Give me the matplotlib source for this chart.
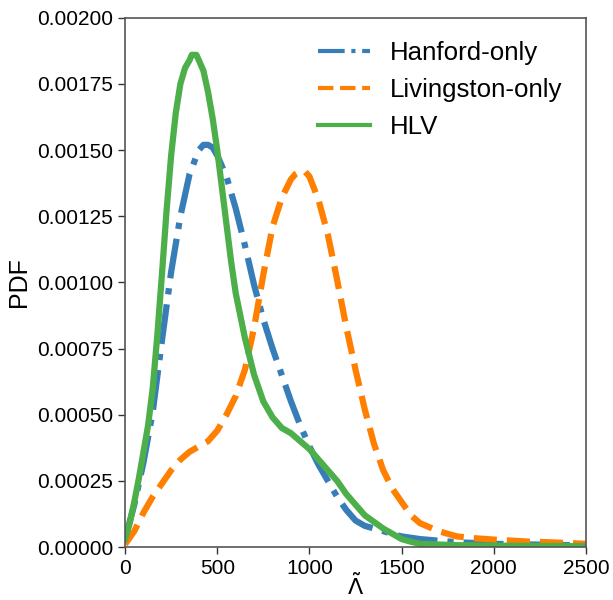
import matplotlib
matplotlib.use("Agg")
import matplotlib.pyplot as plt

# ---- data ----
hlv_x = [0, 25, 50, 75, 100, 125, 150, 175, 200, 225, 250, 275, 300, 325, 350, 362,
         375, 387, 400, 425, 450, 475, 500, 525, 550, 575, 600, 650, 700, 750, 800,
         850, 900, 950, 1000, 1050, 1100, 1150, 1200, 1250, 1300, 1350, 1400, 1450,
         1500, 1550, 1600, 1800, 2000, 2500]
hlv_y = [0.00003, 0.00009, 0.00017, 0.00026, 0.00036, 0.00046, 0.00060, 0.00080,
         0.00103, 0.00127, 0.00148, 0.00164, 0.00175, 0.00181, 0.00184, 0.00186,
         0.00186, 0.00186, 0.00184, 0.00180, 0.00172, 0.00162, 0.00150, 0.00136,
         0.00122, 0.00108, 0.00096, 0.00079, 0.00065, 0.00055, 0.00049, 0.00045,
         0.00043, 0.00040, 0.00037, 0.00033, 0.00029, 0.00025, 0.00020, 0.00016,
         0.00012, 0.000095, 0.00007, 0.00005, 0.00003, 0.00002, 0.000012, 0.000007,
         0.000005, 0.000003]

han_x = [0, 50, 100, 150, 200, 250, 300, 350, 400, 425, 450, 475, 500, 550, 600, 650,
         700, 750, 800, 850, 900, 950, 1000, 1050, 1100, 1150, 1200, 1250, 1300,
         1400, 1500, 1600, 1800, 2000, 2500]
han_y = [0.00003, 0.00016, 0.00032, 0.00051, 0.00078, 0.00104, 0.00125, 0.00141,
         0.00150, 0.00152, 0.00152, 0.00151, 0.00148, 0.00140, 0.00128, 0.00114,
         0.00099, 0.00086, 0.00075, 0.00065, 0.00055, 0.00046, 0.00038, 0.00031,
         0.00025, 0.00019, 0.00014, 0.00010, 0.00008, 0.00006, 0.00004, 0.00003,
         0.000018, 0.000012, 0.000006]

liv_x = [0, 50, 100, 150, 200, 250, 300, 350, 400, 450, 500, 550, 600, 650, 700,
         750, 800, 850, 900, 925, 950, 975, 1000, 1050, 1100, 1150, 1200, 1250, 1300,
         1350, 1400, 1450, 1500, 1550, 1600, 1650, 1700, 1800, 1900, 2000, 2100,
         2200, 2300, 2500]
liv_y = [0.00001, 0.00006, 0.00013, 0.00019, 0.00024, 0.00029, 0.00033, 0.00036,
         0.00038, 0.00040, 0.00044, 0.00050, 0.00057, 0.00067, 0.00083, 0.00103,
         0.00121, 0.00132, 0.00139, 0.00141, 0.00142, 0.00142, 0.00140, 0.00131,
         0.00118, 0.00101, 0.00083, 0.00067, 0.00052, 0.00039, 0.00029, 0.00022,
         0.00017, 0.00012, 0.00009, 0.000075, 0.00006, 0.00004, 0.000033, 0.000028,
         0.000024, 0.00002, 0.000018, 0.000012]

labels = ["Hanford-only", "Livingston-only", "HLV"]
colors = ["#377eb8", "#ff7f00", "#4daf4a"]

xticks = [0, 500, 1000, 1500, 2000, 2500]
yticks = [0.0, 0.00025, 0.0005, 0.00075, 0.001, 0.00125, 0.0015, 0.00175, 0.002]

plt.rcParams['font.family'] = ['Liberation Sans', 'DejaVu Sans']

fig = plt.figure(figsize=(6.13, 6.0), dpi=100)
ax = fig.add_axes([0.204, 0.0883, 0.752, 0.882])

kw = dict(lw=4.5, solid_joinstyle='round', dash_joinstyle='round')
ax.plot(han_x, han_y, color=colors[0], ls='-.', label=labels[0], **kw)
ax.plot(liv_x, liv_y, color=colors[1], ls='--', label=labels[1], **kw)
ax.plot(hlv_x, hlv_y, color=colors[2], ls='-', label=labels[2], **kw)

ax.set_xlim(0, 2500)
ax.set_ylim(0, 0.002)
ax.set_xticks(xticks)
ax.set_yticks(yticks)
ax.set_yticklabels([f"{v:.5f}" for v in yticks])
ax.tick_params(labelsize=15, direction='out', length=5, width=1, color='#333333')
for s in ax.spines.values():
    s.set_color('#555555')
    s.set_linewidth(1.2)

ax.set_xlabel(r'$\tilde{\Lambda}$', fontsize=16, labelpad=-3)
ax.set_ylabel('PDF', fontsize=18)

leg = ax.legend(loc='upper right', fontsize=18.6, frameon=False, handlelength=2.0,
                handletextpad=0.8)
for h in leg.get_lines():
    h.set_linewidth(3)

fig.savefig("out.png", dpi=100)
